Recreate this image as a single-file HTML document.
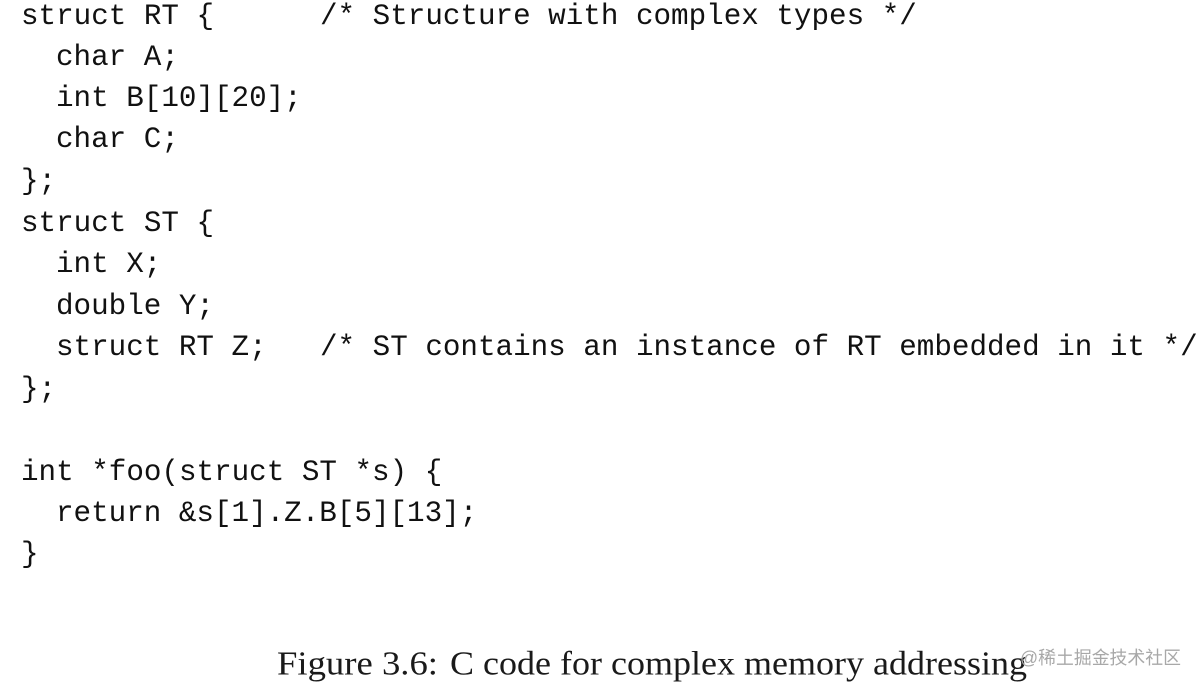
<!DOCTYPE html>
<html>
<head>
<meta charset="utf-8">
<style>
html,body{margin:0;padding:0;background:#fff;width:1200px;height:688px;overflow:hidden}
svg{display:block}
.c{font-family:"Liberation Mono",monospace;font-size:29.25px;fill:#111;white-space:pre}
.f{font-family:"Liberation Serif",serif;font-size:34px;fill:#1a1a1a}
.w{font-family:"Liberation Sans","Noto Sans CJK SC",sans-serif;font-size:18px;fill:#a8a8a8}
</style>
</head>
<body>
<svg width="1200" height="688" viewBox="0 0 1200 688" xmlns="http://www.w3.org/2000/svg" xml:space="preserve">
<text class="c" x="21" y="24">struct RT {</text>
<text class="c" x="320" y="24">/* Structure with complex types */</text>
<text class="c" x="56" y="65">char A;</text>
<text class="c" x="56" y="106">int B[10][20];</text>
<text class="c" x="56" y="147">char C;</text>
<text class="c" x="21" y="189">};</text>
<text class="c" x="21" y="231">struct ST {</text>
<text class="c" x="56" y="272">int X;</text>
<text class="c" x="56" y="314">double Y;</text>
<text class="c" x="56" y="355">struct RT Z;</text>
<text class="c" x="320" y="355">/* ST contains an instance of RT embedded in it */</text>
<text class="c" x="21" y="397">};</text>
<text class="c" x="21" y="480">int *foo(struct ST *s) {</text>
<text class="c" x="56" y="521">return &amp;s[1].Z.B[5][13];</text>
<text class="c" x="21" y="562">}</text>
<text class="f" x="277" y="674.5" textLength="161" lengthAdjust="spacingAndGlyphs">Figure 3.6:</text>
<text class="f" x="450" y="674.5" textLength="577" lengthAdjust="spacingAndGlyphs">C code for complex memory addressing</text>
<text class="w" x="1020" y="664" textLength="161" lengthAdjust="spacingAndGlyphs">@稀土掘金技术社区</text>
</svg>
</body>
</html>
